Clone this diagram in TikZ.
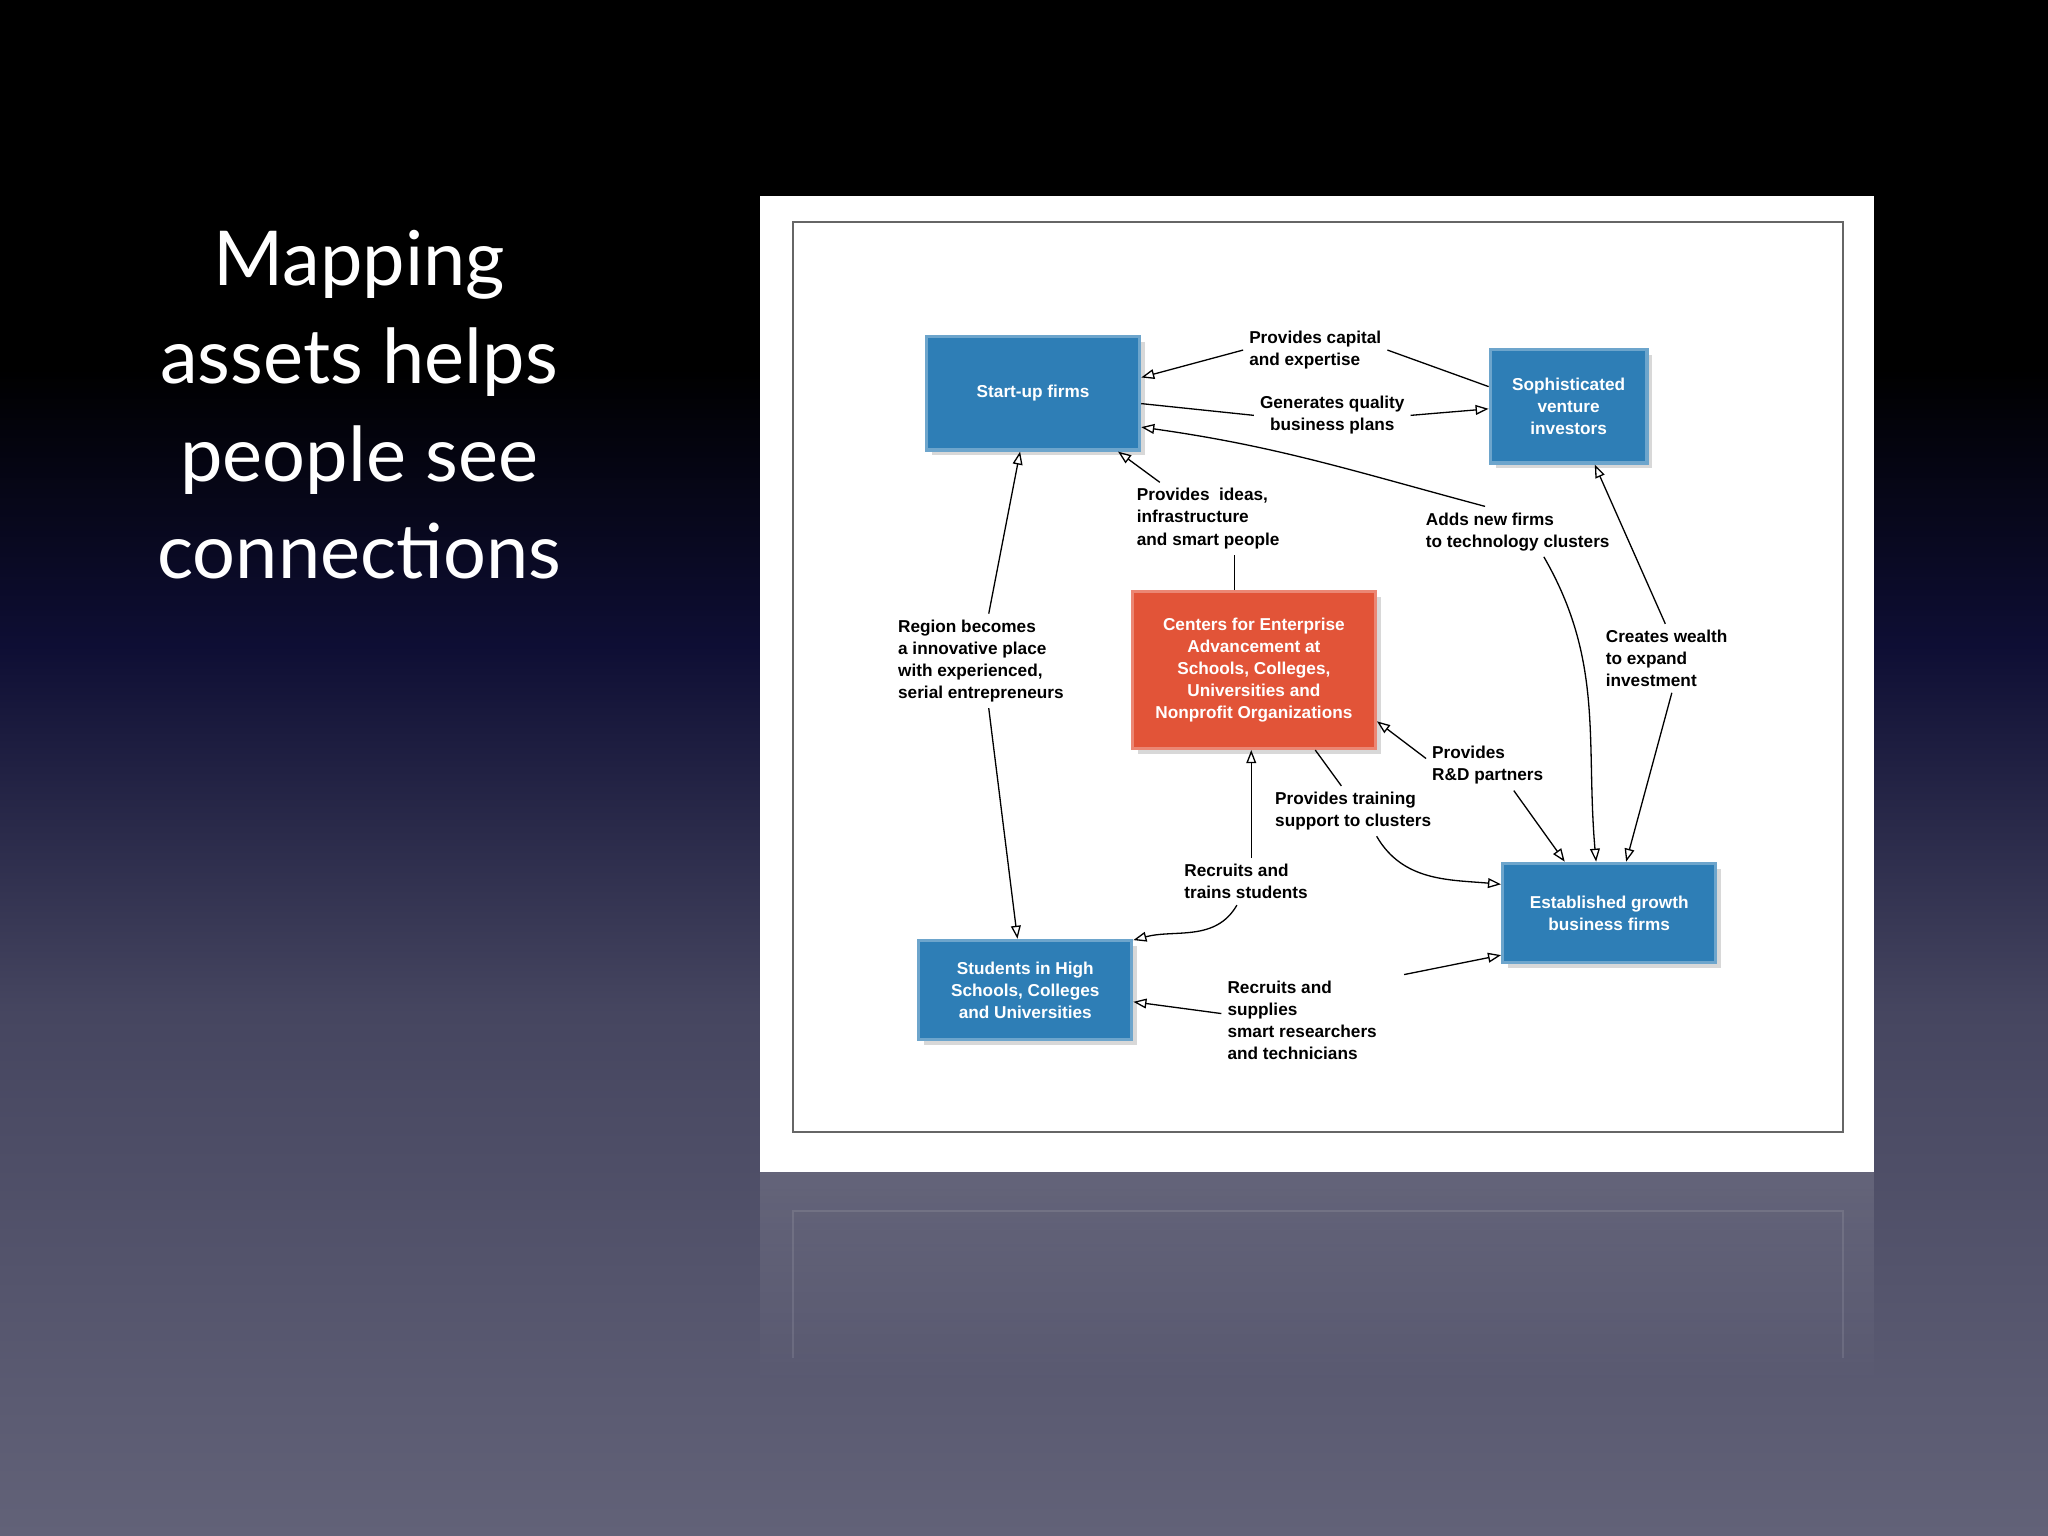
\documentclass[tikz,border=0pt]{standalone}
\usepackage{fontspec}
\setmainfont{Liberation Sans}
\newfontfamily\titlefont{Lato}
\usetikzlibrary{arrows.meta,shadows,fadings,calc}
\definecolor{boxblue}{RGB}{46,126,182}
\definecolor{boxred}{RGB}{226,84,56}
\definecolor{bgbot}{RGB}{98,98,120}
\definecolor{bglow}{RGB}{70,70,96}
\definecolor{bgmid}{RGB}{14,14,52}
\pgfdeclareverticalshading{slidebg}{100bp}{color(0bp)=(bgbot); color(25bp)=(bgbot); color(42bp)=(bglow); color(54bp)=(bgmid); color(63bp)=(black); color(100bp)=(black)}
\begin{document}
\begin{tikzpicture}
  [x=0.1mm,y=-0.1mm,
   box/.style={draw=boxblue!70!white,line width=0.25mm,fill=boxblue,text=white,font=\bfseries\fontsize{3.75}{4.8}\selectfont,
     align=center,inner sep=0pt,drop shadow={shadow xshift=0.4mm,shadow yshift=-0.4mm,opacity=0.3}},
   lab/.style={font=\bfseries\fontsize{3.75}{4.8}\selectfont,align=left,inner sep=0.4mm},
   link/.style={line width=0.1mm,-{Triangle[open,length=1mm,width=0.75mm]}},
   line/.style={line width=0.1mm}]
  \useasboundingbox (0,0) rectangle (1568,1176);
  \shade[shading=slidebg] (0,0) rectangle (1568,1176);
  % title
  \node[text=white,font=\titlefont\fontsize{16.5}{21.3}\selectfont,align=center] (title) at (275,310)
    {Mapping\\assets helps\\people see\\connections};
  % panel and its reflection
  \fill[white,path fading=south,fill opacity=0.12] (582,897) rectangle (1435,1060);
  \draw[white,opacity=0.1,line width=0.15mm] (607,1040) -- (607,927) -- (1411,927) -- (1411,1040);
  \fill[white] (582,150) rectangle (1435,897);
  \draw[gray!80!black,line width=0.15mm] (607,170) rectangle (1411,867);
  % boxes
  \node[box,minimum width=16.3mm,minimum height=8.7mm] (su) at (791,301) {Start-up firms};
  \node[box,minimum width=12mm,minimum height=8.7mm] (vi) at (1201,311) {Sophisticated\\venture\\investors};
  \node[box,fill=boxred,draw=boxred!70!white,minimum width=18.6mm,minimum height=12mm] (ce) at (960,513)
    {Centers for Enterprise\\Advancement at\\Schools, Colleges,\\Universities and\\Nonprofit Organizations};
  \node[box,minimum width=16.3mm,minimum height=7.6mm] (st) at (785,758) {Students in High\\Schools, Colleges\\and Universities};
  \node[box,minimum width=16.3mm,minimum height=7.6mm] (eg) at (1232,699) {Established growth\\business firms};
  % labels
  \node[lab] (l1) at (1007,268) {Provides capital\\and expertise};
  \node[lab,align=center] (l2) at (1020,318) {Generates quality\\business plans};
  \node[lab] (l3) at (925,397) {Provides\ \ ideas,\\infrastructure\\and smart people};
  \node[lab] (l4) at (1162,407) {Adds new firms\\to technology clusters};
  \node[lab] (l5) at (751,506) {Region becomes\\a innovative place\\with experienced,\\serial entrepreneurs};
  \node[lab] (l6) at (1276,504) {Creates wealth\\to expand\\investment};
  \node[lab] (l7) at (1139,586) {Provides\\R\&D partners};
  \node[lab] (l8) at (1036,621) {Provides training\\support to clusters};
  \node[lab] (l9) at (954,675) {Recruits and\\trains students};
  \node[lab] (l10) at (997,781) {Recruits and\\supplies\\smart researchers\\and technicians};
  % connectors
  \draw [line] ($(vi.west)+(0,-15)$) -- (l1.east);
  \draw [link] (l1.west) -- ($(su.east)+(0,-12)$);
  \draw [line] ($(su.east)+(0,8)$) -- (l2.west);
  \draw [link] (l2.east) -- ($(vi.west)+(0,2)$);
  \draw [link] ($(l4.north west)+(50,0)$) to[out=165,in=-8] ($(su.east)+(0,26)$);
  \draw [link] ($(l4.south)+(20,0)$) to[out=-60,in=95] ($(eg.north)+(-10,0)$);
  \draw [line] ($(ce.north)+(-15,0)$) -- ($(l3.south)+(20,0)$);
  \draw [link] ($(l3.north)+(-37,0)$) -- ($(su.south)+(65,0)$);
  \draw [link] ($(l5.north)+(6,0)$) -- ($(su.south)+(-10,0)$);
  \draw [link] ($(l5.south)+(6,0)$) -- ($(st.north)+(-6,0)$);
  \draw [link] ($(l6.north)+(-1,0)$) -- ($(vi.south)+(20,0)$);
  \draw [link] ($(l6.south)+(4,0)$) -- ($(eg.north)+(13,0)$);
  \draw [link] ($(l7.north west)+(0,14)$) -- ($(ce.south east)+(0,-22)$);
  \draw [link] ($(l7.south)+(20,0)$) -- ($(eg.north)+(-34,0)$);
  \draw [line] ($(ce.south)+(47,0)$) -- ($(l8.north)+(-9,0)$);
  \draw [link] ($(l8.south)+(18,0)$) to[out=-60,in=175] ($(eg.west)+(0,-22)$);
  \draw [link] ($(l9.north)+(4,0)$) -- ($(ce.south)+(-2,0)$);
  \draw [link] ($(l9.south)+(-7,0)$) to[out=-120,in=15] ($(st.north east)+(0,1)$);
  \draw [link] ($(l10.west)+(0,-5)$) -- ($(st.east)+(0,9)$);
  \draw [link] ($(l10.north)+(78,0)$) -- ($(eg.south west)+(0,-7)$);
\end{tikzpicture}
\end{document}
